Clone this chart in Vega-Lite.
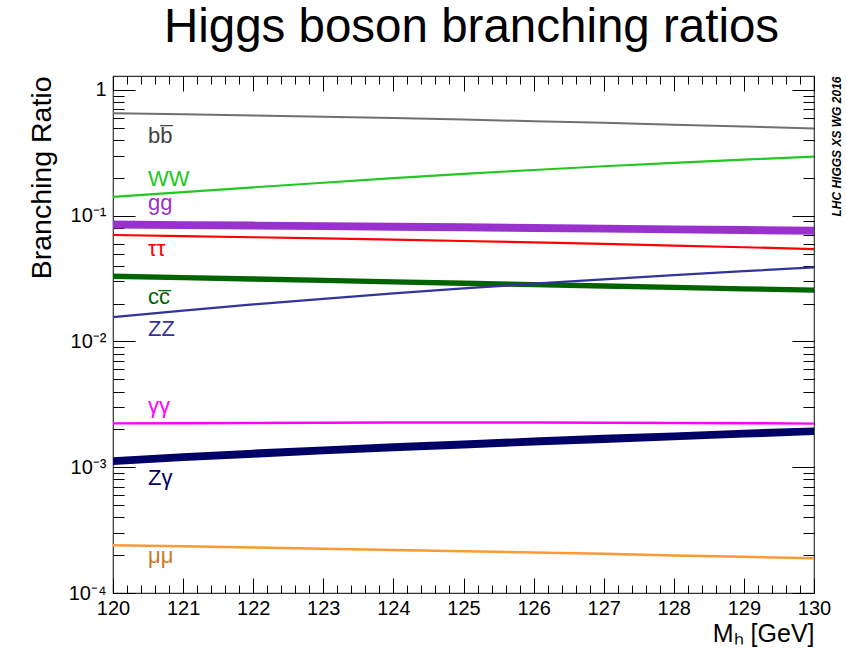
{
  "$schema": "https://vega.github.io/schema/vega-lite/v6.json",
  "width": 701,
  "height": 517,
  "autosize": "none",
  "padding": {"left": 113, "top": 76, "right": 32, "bottom": 57},
  "background": "white",
  "title": {
    "text": "Higgs boson branching ratios",
    "font": "Liberation Sans",
    "fontSize": 47.5,
    "fontWeight": "normal",
    "color": "#000000",
    "anchor": "middle",
    "baseline": "alphabetic",
    "dx": 8,
    "offset": -14
  },
  "datasets": {
    "lines": [
      {"M": 120, "bb": 0.652, "WW": 0.141, "tautau": 0.0702, "ZZ": 0.0156, "gamgam": 0.00223, "mumu": 0.000240},
      {"M": 121, "bb": 0.640, "WW": 0.154, "tautau": 0.0688, "ZZ": 0.0176, "gamgam": 0.00224, "mumu": 0.000235},
      {"M": 122, "bb": 0.627, "WW": 0.168, "tautau": 0.0674, "ZZ": 0.0197, "gamgam": 0.00225, "mumu": 0.000230},
      {"M": 123, "bb": 0.612, "WW": 0.183, "tautau": 0.0660, "ZZ": 0.0218, "gamgam": 0.00226, "mumu": 0.000225},
      {"M": 124, "bb": 0.597, "WW": 0.199, "tautau": 0.0645, "ZZ": 0.0241, "gamgam": 0.00227, "mumu": 0.000220},
      {"M": 125, "bb": 0.581, "WW": 0.215, "tautau": 0.0629, "ZZ": 0.0264, "gamgam": 0.00227, "mumu": 0.000215},
      {"M": 126, "bb": 0.564, "WW": 0.231, "tautau": 0.0613, "ZZ": 0.0288, "gamgam": 0.00227, "mumu": 0.000210},
      {"M": 127, "bb": 0.547, "WW": 0.247, "tautau": 0.0596, "ZZ": 0.0312, "gamgam": 0.00226, "mumu": 0.000205},
      {"M": 128, "bb": 0.529, "WW": 0.263, "tautau": 0.0579, "ZZ": 0.0337, "gamgam": 0.00225, "mumu": 0.000199},
      {"M": 129, "bb": 0.511, "WW": 0.279, "tautau": 0.0561, "ZZ": 0.0362, "gamgam": 0.00224, "mumu": 0.000194},
      {"M": 130, "bb": 0.494, "WW": 0.295, "tautau": 0.0543, "ZZ": 0.0388, "gamgam": 0.00222, "mumu": 0.000189}
    ],
    "bands": [
      {"M": 120, "ch": "gg", "lo": 0.0790, "hi": 0.0914},
      {"M": 121, "ch": "gg", "lo": 0.0783, "hi": 0.0905},
      {"M": 122, "ch": "gg", "lo": 0.0776, "hi": 0.0897},
      {"M": 123, "ch": "gg", "lo": 0.0768, "hi": 0.0888},
      {"M": 124, "ch": "gg", "lo": 0.0760, "hi": 0.0878},
      {"M": 125, "ch": "gg", "lo": 0.0752, "hi": 0.0869},
      {"M": 126, "ch": "gg", "lo": 0.0743, "hi": 0.0859},
      {"M": 127, "ch": "gg", "lo": 0.0734, "hi": 0.0848},
      {"M": 128, "ch": "gg", "lo": 0.0725, "hi": 0.0837},
      {"M": 129, "ch": "gg", "lo": 0.0715, "hi": 0.0827},
      {"M": 130, "ch": "gg", "lo": 0.0705, "hi": 0.0815},
      {"M": 120, "ch": "cc", "lo": 0.0314, "hi": 0.0347},
      {"M": 121, "ch": "cc", "lo": 0.0307, "hi": 0.0338},
      {"M": 122, "ch": "cc", "lo": 0.0299, "hi": 0.0330},
      {"M": 123, "ch": "cc", "lo": 0.0291, "hi": 0.0321},
      {"M": 124, "ch": "cc", "lo": 0.0284, "hi": 0.0313},
      {"M": 125, "ch": "cc", "lo": 0.0276, "hi": 0.0305},
      {"M": 126, "ch": "cc", "lo": 0.0270, "hi": 0.0297},
      {"M": 127, "ch": "cc", "lo": 0.0263, "hi": 0.0290},
      {"M": 128, "ch": "cc", "lo": 0.0256, "hi": 0.0282},
      {"M": 129, "ch": "cc", "lo": 0.0250, "hi": 0.0275},
      {"M": 130, "ch": "cc", "lo": 0.0244, "hi": 0.0268},
      {"M": 120, "ch": "Zgam", "lo": 0.00104, "hi": 0.00120},
      {"M": 121, "ch": "Zgam", "lo": 0.00112, "hi": 0.00129},
      {"M": 122, "ch": "Zgam", "lo": 0.00119, "hi": 0.00138},
      {"M": 123, "ch": "Zgam", "lo": 0.00127, "hi": 0.00146},
      {"M": 124, "ch": "Zgam", "lo": 0.00134, "hi": 0.00155},
      {"M": 125, "ch": "Zgam", "lo": 0.00141, "hi": 0.00163},
      {"M": 126, "ch": "Zgam", "lo": 0.00149, "hi": 0.00172},
      {"M": 127, "ch": "Zgam", "lo": 0.00156, "hi": 0.00181},
      {"M": 128, "ch": "Zgam", "lo": 0.00164, "hi": 0.00189},
      {"M": 129, "ch": "Zgam", "lo": 0.00172, "hi": 0.00199},
      {"M": 130, "ch": "Zgam", "lo": 0.00180, "hi": 0.00207}
    ],
    "labels": [
      {"ch": "bb", "text": "bb̅", "M": 120.5, "BR": 0.379},
      {"ch": "WW", "text": "WW", "M": 120.5, "BR": 0.1723},
      {"ch": "gg", "text": "gg", "M": 120.5, "BR": 0.1116},
      {"ch": "tautau", "text": "ττ", "M": 120.5, "BR": 0.0475},
      {"ch": "cc", "text": "cc̅", "M": 120.5, "BR": 0.0198},
      {"ch": "ZZ", "text": "ZZ", "M": 120.5, "BR": 0.01104},
      {"ch": "gamgam", "text": "γγ", "M": 120.5, "BR": 0.00269},
      {"ch": "Zgam", "text": "Zγ", "M": 120.5, "BR": 0.000721},
      {"ch": "mumu", "text": "μμ", "M": 120.5, "BR": 0.000173}
    ]
  },
  "resolve": {"axis": {"x": "independent", "y": "independent"}, "scale": {"color": "independent"}},
  "layer": [
    {
      "data": {"name": "bands"},
      "mark": {"type": "area", "opacity": 1},
      "encoding": {
        "x": {
          "field": "M", "type": "quantitative",
          "scale": {"domain": [120, 130], "nice": false, "zero": false},
          "axis": {
            "orient": "bottom",
            "values": [120,120.2,120.4,120.6,120.8,121,121.2,121.4,121.6,121.8,122,122.2,122.4,122.6,122.8,123,123.2,123.4,123.6,123.8,124,124.2,124.4,124.6,124.8,125,125.2,125.4,125.6,125.8,126,126.2,126.4,126.6,126.8,127,127.2,127.4,127.6,127.8,128,128.2,128.4,128.6,128.8,129,129.2,129.4,129.6,129.8,130],
            "labelExpr": "abs(datum.value - round(datum.value)) < 0.01 ? format(datum.value, 'd') : ''",
            "tickSize": {"condition": {"test": "abs(datum.value - round(datum.value)) < 0.01", "value": -15}, "value": -8},
            "labelPadding": 20,
            "labelFlush": false,
            "labelOverlap": false,
            "title": "Mₕ [GeV]",
            "titleAnchor": "end",
            "titleFontSize": 25,
            "titlePadding": -4
          }
        },
        "y": {
          "field": "lo", "type": "quantitative",
          "scale": {"type": "log", "domain": [0.0001, 1.29], "nice": false, "zero": false},
          "axis": {
            "orient": "left",
            "values": [0.0001,0.0002,0.0003,0.0004,0.0005,0.0006,0.0007,0.0008,0.0009,0.001,0.002,0.003,0.004,0.005,0.006,0.007,0.008,0.009,0.01,0.02,0.03,0.04,0.05,0.06,0.07,0.08,0.09,0.1,0.2,0.3,0.4,0.5,0.6,0.7,0.8,0.9,1],
            "labelExpr": "abs(log(datum.value)/LN10 - round(log(datum.value)/LN10)) > 0.001 ? '' : round(log(datum.value)/LN10) == 0 ? '1' : round(log(datum.value)/LN10) == -1 ? '10⁻¹' : round(log(datum.value)/LN10) == -2 ? '10⁻²' : round(log(datum.value)/LN10) == -3 ? '10⁻³' : '10⁻⁴'",
            "tickSize": {"condition": {"test": "abs(log(datum.value)/LN10 - round(log(datum.value)/LN10)) < 0.001", "value": -22}, "value": -11},
            "labelPadding": 29,
            "labelOverlap": false,
            "labelBaseline": "middle",
            "title": "Branching Ratio",
            "titleAnchor": "end",
            "titleFontSize": 28.5,
            "titlePadding": 12
          }
        },
        "y2": {"field": "hi"},
        "color": {
          "field": "ch", "type": "nominal", "legend": null,
          "scale": {"domain": ["gg", "cc", "Zgam"], "range": ["#9932cc", "#006400", "#000066"]}
        }
      }
    },
    {
      "data": {"name": "lines"},
      "transform": [{"fold": ["bb", "WW", "tautau", "ZZ", "gamgam", "mumu"], "as": ["ch", "BR"]}],
      "mark": {"type": "line", "interpolate": "linear"},
      "encoding": {
        "x": {
          "field": "M", "type": "quantitative",
          "scale": {"domain": [120, 130], "nice": false, "zero": false},
          "axis": {
            "orient": "top",
            "values": [120,120.2,120.4,120.6,120.8,121,121.2,121.4,121.6,121.8,122,122.2,122.4,122.6,122.8,123,123.2,123.4,123.6,123.8,124,124.2,124.4,124.6,124.8,125,125.2,125.4,125.6,125.8,126,126.2,126.4,126.6,126.8,127,127.2,127.4,127.6,127.8,128,128.2,128.4,128.6,128.8,129,129.2,129.4,129.6,129.8,130],
            "labels": false,
            "tickSize": {"condition": {"test": "abs(datum.value - round(datum.value)) < 0.01", "value": -15}, "value": -8},
            "title": null
          }
        },
        "y": {
          "field": "BR", "type": "quantitative",
          "scale": {"type": "log", "domain": [0.0001, 1.29], "nice": false, "zero": false},
          "axis": {
            "orient": "right",
            "values": [0.0001,0.0002,0.0003,0.0004,0.0005,0.0006,0.0007,0.0008,0.0009,0.001,0.002,0.003,0.004,0.005,0.006,0.007,0.008,0.009,0.01,0.02,0.03,0.04,0.05,0.06,0.07,0.08,0.09,0.1,0.2,0.3,0.4,0.5,0.6,0.7,0.8,0.9,1],
            "labels": false,
            "tickSize": {"condition": {"test": "abs(log(datum.value)/LN10 - round(log(datum.value)/LN10)) < 0.001", "value": -22}, "value": -11},
            "title": "LHC HIGGS XS WG 2016",
            "titleAngle": 270,
            "titleAnchor": "end",
            "titleFontSize": 12,
            "titleFontWeight": "bold",
            "titleFontStyle": "italic",
            "titlePadding": 29
          }
        },
        "color": {
          "field": "ch", "type": "nominal", "legend": null,
          "scale": {"domain": ["bb", "WW", "tautau", "ZZ", "gamgam", "mumu"], "range": ["#707070", "#20c820", "#ff0000", "#333399", "#ff00ff", "#ff9933"]}
        },
        "strokeWidth": {
          "field": "ch", "type": "nominal", "legend": null,
          "scale": {"domain": ["bb", "WW", "tautau", "ZZ", "gamgam", "mumu"], "range": [2, 2.5, 2.5, 2.5, 3, 3]}
        }
      }
    },
    {
      "data": {"name": "labels"},
      "mark": {"type": "text", "align": "left", "baseline": "alphabetic", "fontSize": 22, "font": "Liberation Sans"},
      "encoding": {
        "x": {"field": "M", "type": "quantitative", "axis": null},
        "y": {"field": "BR", "type": "quantitative", "axis": null},
        "text": {"field": "text"},
        "color": {
          "field": "ch", "type": "nominal", "legend": null,
          "scale": {"domain": ["bb", "WW", "gg", "tautau", "cc", "ZZ", "gamgam", "Zgam", "mumu"], "range": ["#404040", "#20c820", "#9932cc", "#ff0000", "#006400", "#333399", "#ff00ff", "#000066", "#cc7a1f"]}
        }
      }
    }
  ],
  "config": {
    "font": "Liberation Sans",
    "view": {"stroke": "#333333", "strokeWidth": 1.2},
    "axis": {
      "domain": false,
      "grid": false,
      "tickColor": "#000000",
      "tickWidth": 1,
      "labelColor": "#000000",
      "labelFont": "Liberation Sans",
      "labelFontSize": 20,
      "titleColor": "#000000",
      "titleFont": "Liberation Sans",
      "titleFontWeight": "normal"
    }
  }
}
